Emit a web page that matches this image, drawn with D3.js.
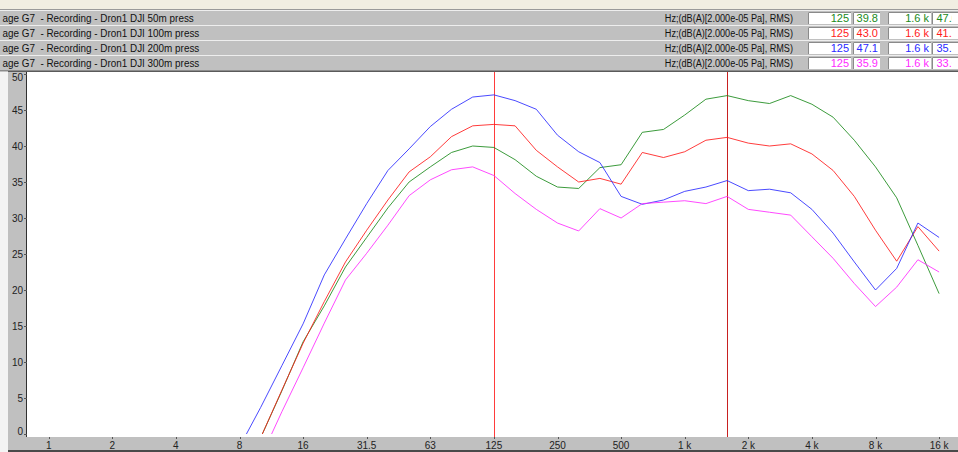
<!DOCTYPE html>
<html>
<head>
<meta charset="utf-8">
<script src="https://cdn.jsdelivr.net/npm/d3@7"></script>
<style>
  html, body { margin: 0; padding: 0; background: #ffffff; overflow: hidden; }
  svg { display: block; }
  .hdr { font-family: "Liberation Sans", Arial, sans-serif; font-size: 11px; white-space: pre; }
  .ax { font-family: "Liberation Sans", Arial, sans-serif; font-size: 10px; fill: #222; }
</style>
</head>
<body>
<svg id="chart" width="958" height="452"></svg>
<script>
// 1/3-octave band centres shown on the frequency axis (1 Hz .. 16 kHz)
const bands = ["1","1.25","1.6","2","2.5","3.15","4","5","6.3","8","10","12.5","16","20","25",
  "31.5","40","50","63","80","100","125","160","200","250","315","400","500","630","800",
  "1k","1.25k","1.6k","2k","2.5k","3.15k","4k","5k","6.3k","8k","10k","12.5k","16k"];

// octave tick positions and their printed labels
const tickBands  = ["1","2","4","8","16","31.5","63","125","250","500","1k","2k","4k","8k","16k"];
const tickLabels = ["1","2","4","8","16","31.5","63","125","250","500","1 k","2 k","4 k","8 k","16 k"];

// level axis ticks, dB(A)
const yTicks = [0,5,10,15,20,25,30,35,40,45,50];

// measured bands for the recordings (8 Hz .. 16 kHz)
const dataBands = ["8","10","12.5","16","20","25","31.5","40","50","63","80","100","125","160",
  "200","250","315","400","500","630","800","1k","1.25k","1.6k","2k","2.5k","3.15k","4k","5k",
  "6.3k","8k","10k","12.5k","16k"];

const lvl50m  = [null,-0.5,6.0,12.8,17.8,23.2,27.3,31.4,35.0,37.1,39.1,40.0,39.8,38.1,
  35.8,34.3,34.1,37.0,37.4,41.9,42.3,44.3,46.5,47.0,46.3,45.9,47.0,45.8,44.0,
  40.8,37.1,32.8,26.2,19.5];
const lvl100m = [null,-0.5,6.1,12.6,18.4,23.9,28.3,32.5,36.4,38.5,41.3,42.8,43.0,42.8,
  39.4,37.1,35.0,35.5,34.7,39.1,38.4,39.2,40.8,41.2,40.4,40.0,40.3,38.9,36.6,
  33.0,28.3,24.0,28.8,25.4];
const lvl200m = [-1.8,3.7,9.5,15.3,22.1,27.1,32.0,36.6,39.6,42.7,45.1,46.8,47.1,46.3,
  45.1,41.5,39.2,37.7,33.0,31.9,32.5,33.7,34.3,35.2,33.8,34.0,33.5,31.2,27.9,
  23.9,20.0,23.0,29.3,27.3];
const lvl300m = [null,-3.3,3.1,9.2,15.4,21.4,25.1,29.0,33.1,35.3,36.7,37.1,35.9,33.4,
  31.2,29.3,28.2,31.3,30.0,32.0,32.2,32.4,32.0,33.0,31.2,30.8,30.4,27.4,24.4,
  20.9,17.7,20.4,24.2,22.5];

const seriesNames  = ["Dron1 DJI 50m press","Dron1 DJI 100m press","Dron1 DJI 200m press","Dron1 DJI 300m press"];
const seriesLevels = [lvl50m, lvl100m, lvl200m, lvl300m];
const seriesColors = ["#1a8a1a","#ff1a1a","#2a2aff","#ff2aff"];

const rowPrefix = "age G7  - Recording - ";
const unitsText = "Hz;(dB(A)[2.000e-05 Pa], RMS)";

// the two cursors
const cursorBands  = ["125","1.6k"];
const cursorLabels = ["125","1.6 k"];
const cursorColors = ["#ff3b3b","#c82020"];

// ---------------------------------------------------------------
const W = 958, H = 452;
const svg = d3.select("#chart");

const plotL = 27, plotT = 72, plotB = 437;
const x = d3.scalePoint().domain(bands).range([48.7, 939.1]);
const y = d3.scaleLinear().domain([0, 50]).range([434, 74]);

// header captions use a condensed rendering of the UI font
function caption(g, str, px, py, anchor, squeeze) {
  return g.append("text").attr("class","hdr")
    .attr("transform", `translate(${px},${py}) scale(${squeeze},1)`)
    .attr("text-anchor", anchor).attr("fill","#111").text(str);
}

// window background pieces
svg.append("rect").attr("x",0).attr("y",0).attr("width",W).attr("height",H).attr("fill","#c0c0c0");
svg.append("rect").attr("x",0).attr("y",0).attr("width",W).attr("height",9).attr("fill","#f1eee2");
svg.append("line").attr("x1",0).attr("x2",W).attr("y1",9.5).attr("y2",9.5).attr("stroke","#9a9a9a");

// header rows, one per recording
const rowTop = i => 11 + 15 * i;
const cells = [
  {x0: 808, x1: 851, anchor: "end"},
  {x0: 853, x1: 880, anchor: "end"},
  {x0: 888, x1: 931, anchor: "end"},
  {x0: 932, x1: 970, anchor: "start"}
];
const hdrClip = svg.append("defs").append("clipPath").attr("id","lastCell");
hdrClip.append("rect").attr("x",932).attr("y",0).attr("width",20).attr("height",80);

seriesNames.forEach((name, i) => {
  const t = rowTop(i);
  const g = svg.append("g");
  g.append("rect").attr("x",0).attr("y",t).attr("width",W).attr("height",14).attr("fill","#c0c0c0");
  g.append("line").attr("x1",0).attr("x2",W).attr("y1",t-0.5).attr("y2",t-0.5).attr("stroke","#eeeeee");
  g.append("line").attr("x1",0).attr("x2",W).attr("y1",t+14.5).attr("y2",t+14.5).attr("stroke","#8c8c8c");
  caption(g, rowPrefix + name, 2.5, t + 11, "start", 0.9);
  caption(g, unitsText, 793, t + 11, "end", 0.83);

  const lv = seriesLevels[i];
  const vals = [
    cursorLabels[0], lv[dataBands.indexOf(cursorBands[0])].toFixed(1),
    cursorLabels[1], lv[dataBands.indexOf(cursorBands[1])].toFixed(1)
  ];
  cells.forEach((c, k) => {
    g.append("rect").attr("x",c.x0).attr("y",t+1).attr("width",c.x1-c.x0).attr("height",12)
      .attr("fill","#ffffff");
    g.append("path").attr("d",`M${c.x0+0.5},${t+13}V${t+1.5}H${c.x1}`)
      .attr("fill","none").attr("stroke","#8a8a8a");
    const tx = g.append("text").attr("class","hdr").attr("y",t+11).attr("fill",seriesColors[i])
      .attr("text-anchor",c.anchor)
      .attr("x", c.anchor === "end" ? c.x1 - 2 : c.x0 + 4.5)
      .text(vals[k]);
    if (k === 3) tx.attr("clip-path","url(#lastCell)");
  });
});

// plot frame
svg.append("rect").attr("x",0).attr("y",plotT).attr("width",8).attr("height",H-plotT).attr("fill","#f4f4f4");
svg.append("rect").attr("x",plotL).attr("y",plotT).attr("width",W-plotL).attr("height",plotB-plotT)
  .attr("fill","#ffffff");
svg.append("line").attr("x1",8).attr("x2",W).attr("y1",plotT-0.5).attr("y2",plotT-0.5).attr("stroke","#5a5a5a");
svg.append("line").attr("x1",plotL-0.5).attr("x2",plotL-0.5).attr("y1",plotT).attr("y2",plotB)
  .attr("stroke","#303030");
svg.append("rect").attr("x",8).attr("y",450).attr("width",W-8).attr("height",2).attr("fill","#4a4a4a");

// level axis
const yAx = svg.append("g");
yTicks.forEach(v => {
  const ty = y(v);
  yAx.append("line").attr("x1",plotL-3).attr("x2",plotL).attr("y1",ty+0.5).attr("y2",ty+0.5)
    .attr("stroke","#555");
  yAx.append("text").attr("class","ax").attr("x",plotL-4).attr("y",Math.max(77, Math.min(431, ty)))
    .attr("dy","0.35em").attr("text-anchor","end").text(v);
});

// frequency axis
const xAx = svg.append("g");
tickBands.forEach((b, k) => {
  const tx = Math.round(x(b)) + 0.5;
  xAx.append("line").attr("x1",tx).attr("x2",tx).attr("y1",plotB).attr("y2",plotB+2).attr("stroke","#555");
  xAx.append("text").attr("class","ax").attr("x",x(b)).attr("y",449).attr("text-anchor","middle")
    .text(tickLabels[k]);
});

// curves, clipped to the 0..50 dB window
svg.append("defs").append("clipPath").attr("id","plotClip")
  .append("rect").attr("x",plotL).attr("y",y(50)).attr("width",W-plotL).attr("height",y(0)-y(50));

const line = d3.line()
  .defined(d => d.v !== null)
  .x(d => x(d.b))
  .y(d => y(d.v));

// cursors
cursorBands.forEach((b, k) => {
  const cx = Math.round(x(b)) + 0.5;
  svg.append("line").attr("x1",cx).attr("x2",cx).attr("y1",plotT).attr("y2",plotB)
    .attr("stroke",cursorColors[k]).attr("stroke-width",1);
});

const curves = svg.append("g").attr("clip-path","url(#plotClip)");
seriesLevels.forEach((lv, i) => {
  const pts = dataBands.map((b, k) => ({b, v: lv[k]}));
  curves.append("path").datum(pts).attr("d", line)
    .attr("fill","none").attr("stroke",seriesColors[i]).attr("stroke-width",1)
    .attr("stroke-opacity",0.85);
});
</script>
</body>
</html>
